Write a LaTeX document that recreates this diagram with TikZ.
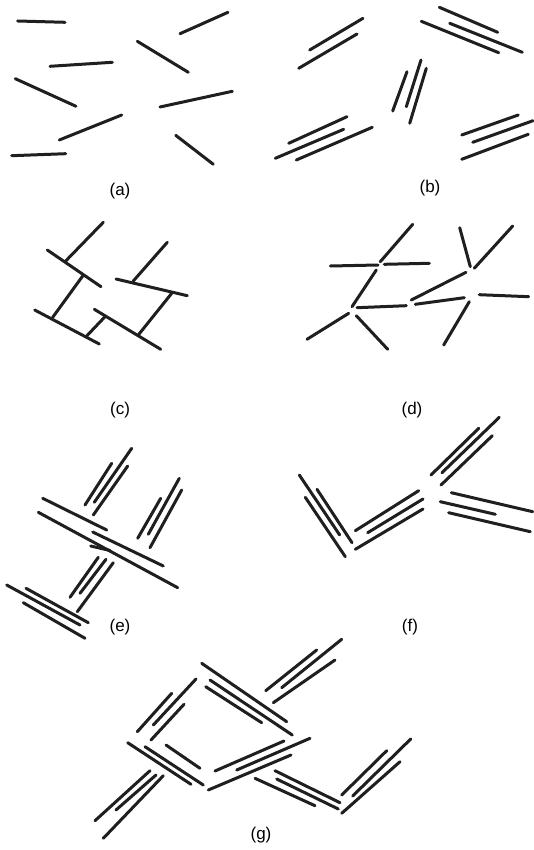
\documentclass[tikz,border=0pt]{standalone}
\usepackage{fontspec}
\setmainfont{Liberation Sans}
\begin{document}
\begin{tikzpicture}[x=1pt,y=-1pt,
  seg/.style={line width=3pt,line cap=round,color=black!88},
  lab/.style={font=\fontsize{17}{20}\selectfont,inner sep=0pt}]
\useasboundingbox (0,0) rectangle (534,850);
% (a)
\foreach \a/\b/\c/\d in {17.7/21/65/22.3, 180/33.7/228/12.3, 137.3/41.3/188.3/72.3,
  50/66.3/112.3/62.3, 15.3/78.7/76/106.3, 160/107/232.3/91.3, 59.3/140/121.7/115,
  11.7/155.7/65.7/153.7, 175.7/135.3/213.3/164.3}
  \draw[seg] (\a,\b) -- (\c,\d);
% (b)
\foreach \a/\b/\c/\d in {309.7/50/363/18.3, 298.7/68.3/357/34,
  439.3/7.3/497.7/32.3, 449.7/23.3/522.3/52.3, 421.3/21.3/498.7/52.7,
  392.7/111/407/71.7, 406.3/106.7/421/60, 409.7/123.3/426.3/68.3,
  288.7/143.3/347/116.7, 275.3/158.3/343.7/129.3, 296.3/160/372.3/127.3,
  461.7/135/518.3/115, 472.7/142.3/533/120.7, 461.7/159.3/528.3/134.3}
  \draw[seg] (\a,\b) -- (\c,\d);
% (c)
\foreach \a/\b/\c/\d in {65.7/261/103.3/222.3, 47.3/250/101/286.7, 52.7/317.3/82.7/276,
  34.7/310/99.3/344, 86/336.7/105/316.7, 94.3/309.3/160.7/349.3,
  138.3/335/171.7/293.3, 116/279/187.3/295.7, 133.3/281/167.3/242.3}
  \draw[seg] (\a,\b) -- (\c,\d);
% (d)
\foreach \a/\b/\c/\d in {380.3/261.7/412.7/224.3, 330.3/266/378/265, 384.3/264.3/429.3/263.3,
  352/306.7/376.3/270, 307/339.3/348.7/313.3, 356.3/315.7/387.7/349.3,
  357/307.7/406.3/305.7, 411.3/300/466/272.3, 415.3/304.3/464.3/297.7,
  443.7/345/469.3/301.7, 459.7/227.7/470.3/266.7, 474.3/268.3/512.7/226,
  479.3/294.7/528.7/296.7}
  \draw[seg] (\a,\b) -- (\c,\d);
% (e)
\foreach \a/\b/\c/\d in {85/505/111.7/463.3, 94.3/502.3/131.7/448.3, 93.3/515/127.7/466,
  137.7/538.3/160.7/498.3, 148.3/534.3/179.3/478.3, 150/547.7/181.7/490,
  42.7/498.3/106.7/530, 38.3/512.3/177.7/587.7, 92.7/532/163.3/566, 90.7/546/110/550.5,
  70/597.3/98.3/557.3, 80/593.3/106/559.3, 77.3/611.7/113.3/562.7,
  6.7/585/80/625, 26/588.3/88.3/622.7, 23.3/602.7/85/638.3}
  \draw[seg] (\a,\b) -- (\c,\d);
% (f)
\foreach \a/\b/\c/\d in {299.3/475/339.7/535, 317/489.3/352/542.7, 305.3/497.3/345.3/556.7,
  355.3/530.7/418.7/490.7, 367.7/532.7/423/499, 355.3/549.3/423/509,
  431/475/478.7/428.3, 442/472.7/499.3/417.3, 441/485/492.3/435.7,
  451.3/492.7/532.7/511.7, 440.3/501.7/495.3/514.3, 448.7/512.7/530.3/531.7}
  \draw[seg] (\a,\b) -- (\c,\d);
% (g)
\foreach \a/\b/\c/\d in {265.7/690.7/316.7/650, 281.7/687.7/341.7/639.3, 273.3/702.7/335/660,
  201.7/663.3/286.7/721.7, 210/680/292.3/735, 205.7/686.7/261.7/722.7,
  137.3/731.7/171.7/693.3, 153.3/725/196/679, 151/740/184/704.3,
  127.7/742.7/191/784.3, 145/746.7/203.3/785, 166/745/200/768.3,
  215/771/284/741, 236.7/770/310/738.3, 208.3/790/291/755,
  255/778.3/315/805.7, 275/770.7/340/802.7, 276.7/779/338.3/809,
  341.7/795/386.7/750.7, 352.7/796/410.7/739, 341.7/813.3/400/761.7,
  95/820.7/150/770.7, 116/810/156/775, 103.3/838.3/163.3/775.7}
  \draw[seg] (\a,\b) -- (\c,\d);
% labels
\node[lab] (la) at (120,191) {(a)};
\node[lab] (lb) at (430,188) {(b)};
\node[lab] (lc) at (120,410) {(c)};
\node[lab] (ld) at (412,410) {(d)};
\node[lab] (le) at (120,627) {(e)};
\node[lab] (lf) at (410,627) {(f)};
\node[lab] (lg) at (261,835) {(g)};
\end{tikzpicture}
\end{document}
